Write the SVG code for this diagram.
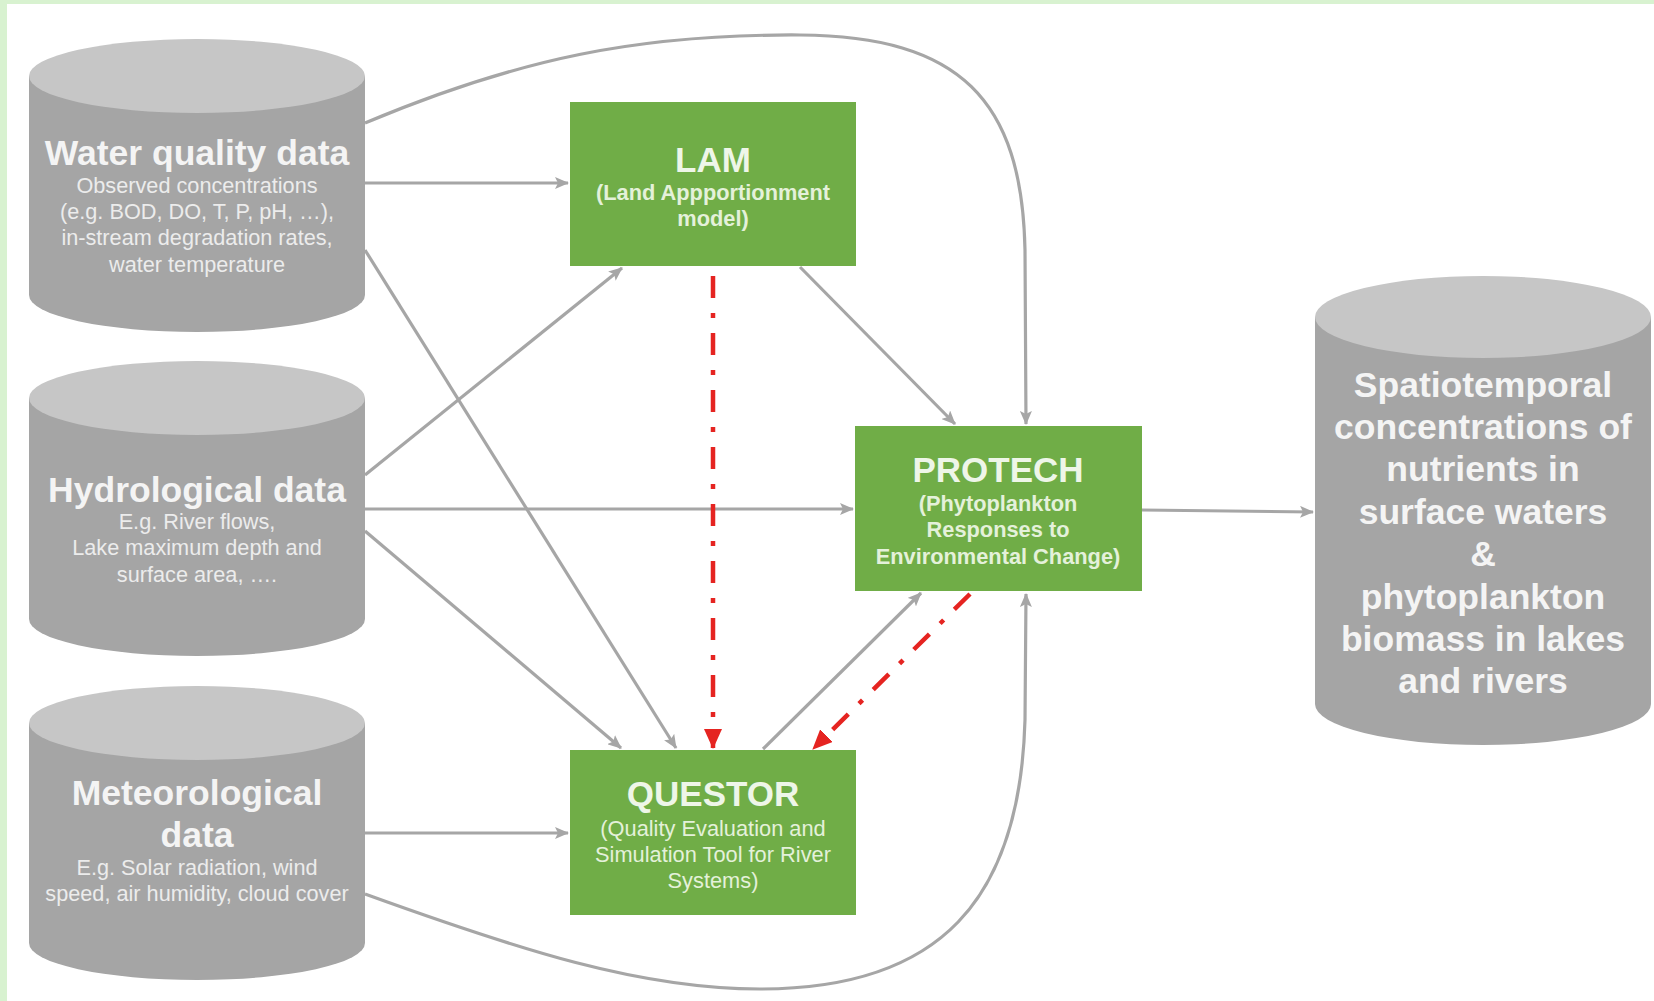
<svg xmlns="http://www.w3.org/2000/svg" width="1654" height="1001" viewBox="0 0 1654 1001">
  <style>
    .cyl-body { fill: #a5a5a5; }
    .cyl-cap { fill: #c6c6c6; }
    .box { fill: #70ad47; }
    .t { font-family: "Liberation Sans", Arial, sans-serif; text-anchor: middle; }
    .title { font-size: 35.5px; font-weight: bold; fill: #f4f4f4; }
    .sub { font-size: 21.7px; fill: #ececec; }
    .btitle { font-size: 35px; font-weight: bold; fill: #eef6e8; }
    .bsub { font-size: 21.8px; font-weight: bold; fill: #e4f1da; }
    .bsubr { font-size: 21.8px; fill: #e4f1da; }
    .out { font-size: 35.5px; font-weight: bold; fill: #f4f4f4; }
    .link { fill: none; stroke: #a6a6a6; stroke-width: 3.2; marker-end: url(#arrow); }
    .feedback { fill: none; stroke: #e52421; stroke-width: 4.5; stroke-dasharray: 22 15 5 15; marker-end: url(#arrow-red); }
  </style>
  <defs>
    <marker id="arrow" markerUnits="userSpaceOnUse" markerWidth="14" markerHeight="12" refX="13" refY="6" orient="auto">
      <path d="M0,0 L14,6 L0,12 L3,6 z" fill="#a6a6a6"/>
    </marker>
    <marker id="arrow-red" markerUnits="userSpaceOnUse" markerWidth="20" markerHeight="18" refX="19" refY="9" orient="auto">
      <path d="M0,0 L20,9 L0,18 z" fill="#e52421"/>
    </marker>
  </defs>

  <!-- page -->
  <rect x="0" y="0" width="1654" height="1001" fill="#ffffff"/>
  <rect x="0" y="0" width="1654" height="4" fill="#d8f2d0"/>
  <rect x="0" y="0" width="7" height="1001" fill="#d8f2d0"/>

  <!-- connectors -->
  <g id="connectors">
    <path class="link" d="M365,183 L568,183"/>
    <path class="link" d="M365,123 C520,58 640,34 800,35 C960,36 1022,100 1025,250 L1026,424"/>
    <path class="link" d="M365,250 L676,748"/>
    <path class="link" d="M365,475 L622,268"/>
    <path class="link" d="M365,509 L853,509"/>
    <path class="link" d="M365,531 L621,748"/>
    <path class="link" d="M365,833 L568,833"/>
    <path class="link" d="M365,894 C520,950 640,989 760,989 C940,989 1020,900 1025,720 L1026,594"/>
    <path class="link" d="M800,267 L955,424"/>
    <path class="link" d="M763,749 L921,593"/>
    <path class="link" d="M1142,510 L1313,512"/>
    <path class="feedback" d="M713,276 L713,748"/>
    <path class="feedback" d="M970,594 L813,749"/>
  </g>

  <!-- input data stores -->
  <g id="water-quality">
    <path class="cyl-body" d="M29,76 L29,295 A168,37 0 0 0 365,295 L365,76 Z"/>
    <ellipse class="cyl-cap" cx="197" cy="76" rx="168" ry="37"/>
    <text class="t title" x="197" y="165">Water quality data</text>
    <text class="t sub" x="197" y="193">Observed concentrations</text>
    <text class="t sub" x="197" y="219">(e.g. BOD, DO, T, P, pH, …),</text>
    <text class="t sub" x="197" y="245">in-stream degradation rates,</text>
    <text class="t sub" x="197" y="272">water temperature</text>
  </g>

  <g id="hydrological">
    <path class="cyl-body" d="M29,398 L29,619 A168,37 0 0 0 365,619 L365,398 Z"/>
    <ellipse class="cyl-cap" cx="197" cy="398" rx="168" ry="37"/>
    <text class="t title" x="197" y="502">Hydrological data</text>
    <text class="t sub" x="197" y="529">E.g. River flows,</text>
    <text class="t sub" x="197" y="555">Lake maximum  depth  and</text>
    <text class="t sub" x="197" y="582">surface area, ….</text>
  </g>

  <g id="meteorological">
    <path class="cyl-body" d="M29,723 L29,943 A168,37 0 0 0 365,943 L365,723 Z"/>
    <ellipse class="cyl-cap" cx="197" cy="723" rx="168" ry="37"/>
    <text class="t title" x="197" y="805">Meteorological</text>
    <text class="t title" x="197" y="847">data</text>
    <text class="t sub" x="197" y="875">E.g. Solar radiation,  wind</text>
    <text class="t sub" x="197" y="901">speed, air humidity,  cloud cover</text>
  </g>

  <!-- models -->
  <g id="lam">
    <rect class="box" x="570" y="102" width="286" height="164"/>
    <text class="t btitle" x="713" y="172">LAM</text>
    <text class="t bsub" x="713" y="200">(Land Appportionment</text>
    <text class="t bsub" x="713" y="226">model)</text>
  </g>

  <g id="protech">
    <rect class="box" x="855" y="426" width="287" height="165"/>
    <text class="t btitle" x="998" y="482">PROTECH</text>
    <text class="t bsub" x="998" y="511">(Phytoplankton</text>
    <text class="t bsub" x="998" y="537">Responses to</text>
    <text class="t bsub" x="998" y="564">Environmental Change)</text>
  </g>

  <g id="questor">
    <rect class="box" x="570" y="750" width="286" height="165"/>
    <text class="t btitle" x="713" y="806">QUESTOR</text>
    <text class="t bsubr" x="713" y="836">(Quality Evaluation  and</text>
    <text class="t bsubr" x="713" y="862">Simulation  Tool for River</text>
    <text class="t bsubr" x="713" y="888">Systems)</text>
  </g>

  <!-- output store -->
  <g id="output">
    <path class="cyl-body" d="M1315,317 L1315,704 A168,41 0 0 0 1651,704 L1651,317 Z"/>
    <ellipse class="cyl-cap" cx="1483" cy="317" rx="168" ry="41"/>
    <text class="t out" x="1483" y="397">Spatiotemporal</text>
    <text class="t out" x="1483" y="439">concentrations of</text>
    <text class="t out" x="1483" y="481">nutrients in</text>
    <text class="t out" x="1483" y="524">surface waters</text>
    <text class="t out" x="1483" y="566">&amp;</text>
    <text class="t out" x="1483" y="609">phytoplankton</text>
    <text class="t out" x="1483" y="651">biomass in lakes</text>
    <text class="t out" x="1483" y="693">and rivers</text>
  </g>
</svg>
